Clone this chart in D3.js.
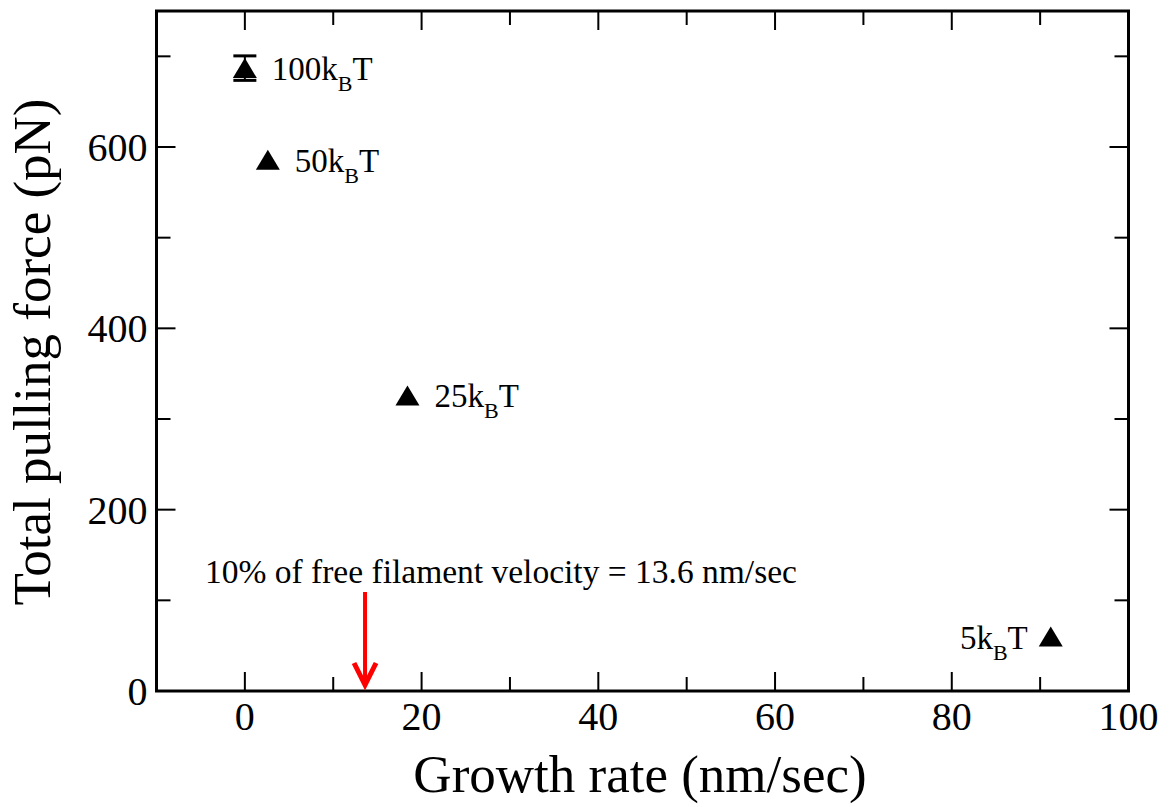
<!DOCTYPE html>
<html>
<head>
<meta charset="utf-8">
<script src="https://cdn.jsdelivr.net/npm/d3@7"></script>
<style>
  html, body { margin: 0; padding: 0; background: #fff; }
  svg { display: block; font-family: "Liberation Serif", "Times New Roman", serif; }
</style>
</head>
<body>
<svg id="chart" width="1176" height="807"></svg>
<script>
// ---- data ----
const growthRate = [0, 2.6, 18.4, 91.2];          // nm/sec
const pullingForce = [687, 586, 326, 60];         // pN
const forceError = [13.5, 0, 0, 0];               // pN
const labelMain = ["100k", "50k", "25k", "5k"];
const labelSub = ["B", "B", "B", "B"];
const labelSide = ["right", "right", "right", "left"];
const xTicks = [0, 20, 40, 60, 80, 100];
const yTicks = [0, 200, 400, 600];
const annotationText = "10% of free filament velocity = 13.6 nm/sec";
const arrowX = 13.6;
const xTitle = "Growth rate (nm/sec)";
const yTitle = "Total pulling force (pN)";

// ---- layout ----
const svg = d3.select("#chart");
const L = 156.5, R = 1128.5, T = 11, B = 691;
const x = d3.scaleLinear().domain([-10, 100]).range([L, R]);
const y = d3.scaleLinear().domain([0, 750]).range([B, T]);

const g = svg.append("g");

// ticks (inward, all four sides)
const majorLen = 19, minorLen = 14;
const xMinor = d3.range(-10, 101, 10).filter(v => !xTicks.includes(v) && v > -10 && v < 100);
const yMinor = d3.range(100, 750, 200);

function xTick(v, len) {
  g.append("line").attr("x1", x(v)).attr("x2", x(v)).attr("y1", B).attr("y2", B - len)
    .attr("stroke", "#000").attr("stroke-width", 2);
  g.append("line").attr("x1", x(v)).attr("x2", x(v)).attr("y1", T).attr("y2", T + len)
    .attr("stroke", "#000").attr("stroke-width", 2);
}
function yTick(v, len) {
  g.append("line").attr("y1", y(v)).attr("y2", y(v)).attr("x1", L).attr("x2", L + len)
    .attr("stroke", "#000").attr("stroke-width", 2);
  g.append("line").attr("y1", y(v)).attr("y2", y(v)).attr("x1", R).attr("x2", R - len)
    .attr("stroke", "#000").attr("stroke-width", 2);
}
xTicks.filter(v => v > -10 && v < 100).forEach(v => xTick(v, majorLen));
xMinor.forEach(v => xTick(v, minorLen));
yTicks.filter(v => v > 0).forEach(v => yTick(v, majorLen));
yMinor.forEach(v => yTick(v, minorLen));

// frame
g.append("rect").attr("x", L).attr("y", T).attr("width", R - L).attr("height", B - T)
  .attr("fill", "none").attr("stroke", "#000").attr("stroke-width", 3);

// tick labels
g.selectAll(".xt").data(xTicks).enter().append("text")
  .attr("x", d => x(d)).attr("y", B + 39)
  .attr("text-anchor", "middle").attr("font-size", 40).text(d => d);
g.selectAll(".yt").data(yTicks).enter().append("text")
  .attr("x", L - 9).attr("y", d => y(d) + 14)
  .attr("text-anchor", "end").attr("font-size", 40).text(d => d);

// axis titles
g.append("text").attr("x", 640).attr("y", 792).attr("text-anchor", "middle")
  .attr("font-size", 53).text(xTitle);
g.append("text").attr("transform", `translate(50,${352}) rotate(-90)`)
  .attr("text-anchor", "middle").attr("font-size", 53).text(yTitle);

// error bars
const capW = 11.5;
growthRate.forEach((gx, i) => {
  if (forceError[i] > 0) {
    const cx = x(gx), y1 = y(pullingForce[i] + forceError[i]), y2 = y(pullingForce[i] - forceError[i]);
    g.append("line").attr("x1", cx).attr("x2", cx).attr("y1", y1).attr("y2", y2)
      .attr("stroke", "#000").attr("stroke-width", 2);
    [y1, y2].forEach(yy => g.append("line").attr("x1", cx - capW).attr("x2", cx + capW)
      .attr("y1", yy).attr("y2", yy).attr("stroke", "#000").attr("stroke-width", 3));
  }
});

// triangle markers
const tw = 12, th = 10;
g.selectAll(".pt").data(growthRate.map((d, i) => [d, pullingForce[i]])).enter()
  .append("path")
  .attr("d", d => {
    const cx = x(d[0]), cy = y(d[1]);
    return `M${cx - tw},${cy + th}L${cx + tw},${cy + th}L${cx},${cy - th}Z`;
  })
  .attr("fill", "#000");

// point labels
growthRate.forEach((gx, i) => {
  const cx = x(gx), cy = y(pullingForce[i]);
  const t = g.append("text").attr("font-size", 33)
    .attr("y", cy + 12);
  if (labelSide[i] === "right") {
    t.attr("x", cx + 27).attr("text-anchor", "start");
  } else {
    t.attr("x", cx - 23).attr("text-anchor", "end");
  }
  t.append("tspan").text(labelMain[i]);
  t.append("tspan").attr("font-size", 22).attr("dy", 11).text(labelSub[i]);
  t.append("tspan").attr("dy", -11).text("T");
});

// annotation
g.append("text").attr("x", 205).attr("y", 583).attr("font-size", 33.5).text(annotationText);

// red arrow
const ax = x(arrowX);
const ay1 = 592, ay2 = 687;
g.append("line").attr("x1", ax).attr("x2", ax).attr("y1", ay1).attr("y2", ay2 - 3)
  .attr("stroke", "#ff0000").attr("stroke-width", 4);
g.append("path")
  .attr("d", `M${ax - 11},${ay2 - 24}L${ax},${ay2 - 2}L${ax + 11},${ay2 - 24}`)
  .attr("fill", "none").attr("stroke", "#ff0000").attr("stroke-width", 5)
  .attr("stroke-linejoin", "miter").attr("stroke-linecap", "butt");
</script>
</body>
</html>
